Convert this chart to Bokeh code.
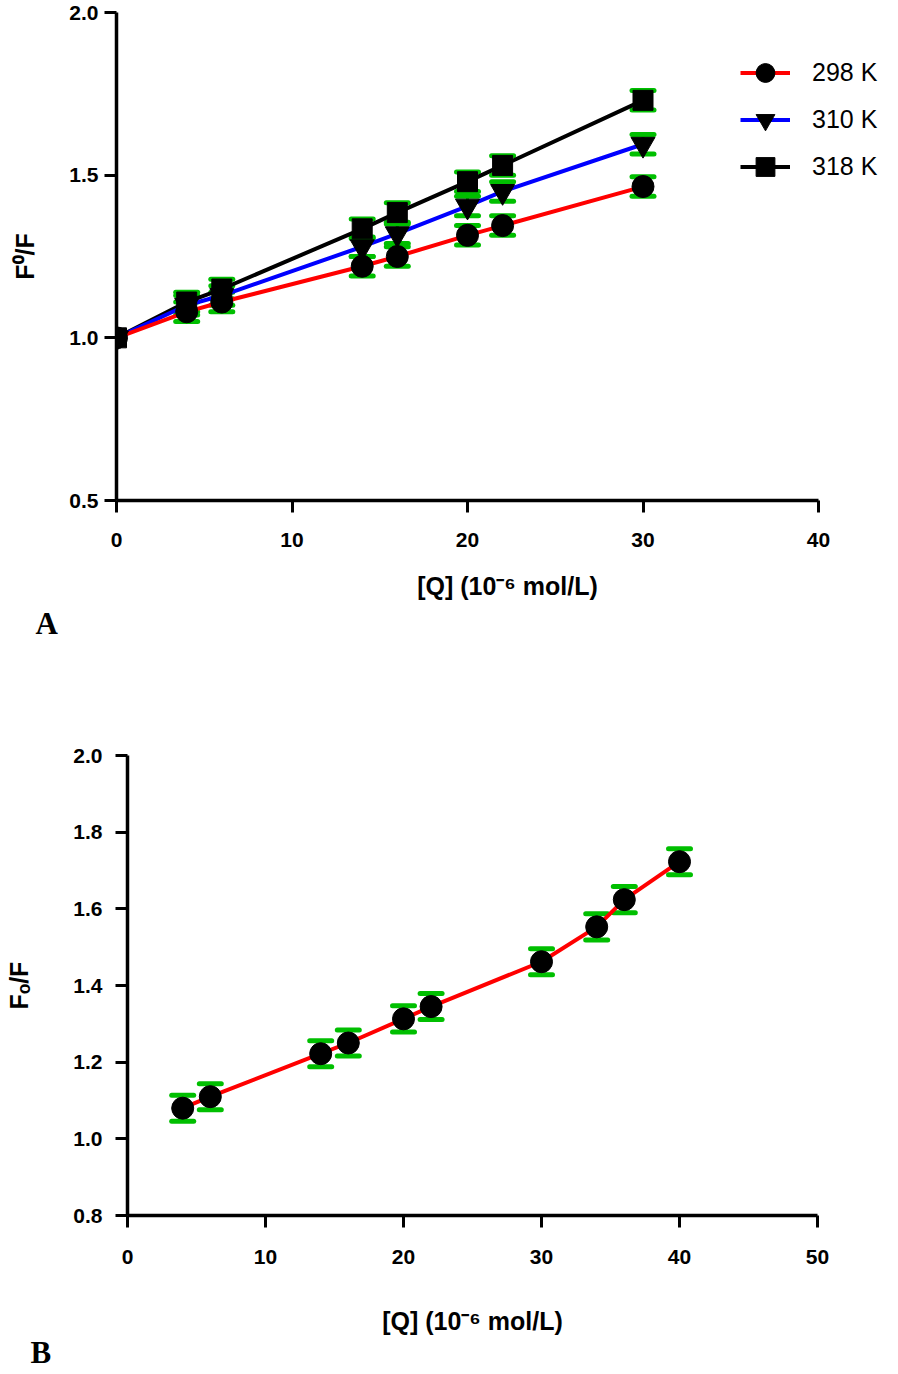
from bokeh.plotting import figure
from bokeh.models import (Range1d, Whisker, TeeHead, ColumnDataSource, Legend,
                          LegendItem, Title, FixedTicker, PrintfTickFormatter)
from bokeh.embed import file_html
from bokeh.resources import INLINE

# ---------------- data: panel A ----------------
conc_a = [0, 4, 6, 14, 16, 20, 22, 30]
ratio_298 = [1.00, 1.08, 1.11, 1.22, 1.25, 1.315, 1.345, 1.465]
ratio_310 = [1.00, 1.10, 1.13, 1.28, 1.32, 1.405, 1.45, 1.595]
ratio_318 = [1.00, 1.11, 1.15, 1.335, 1.385, 1.48, 1.53, 1.73]
err_a = [0.0, 0.03, 0.03, 0.03, 0.03, 0.03, 0.03, 0.03]
labels_a = ["298 K", "310 K", "318 K"]

# ---------------- data: panel B ----------------
conc_b = [4, 6, 14, 16, 20, 22, 30, 34, 36, 40]
ratio_b = [1.08, 1.11, 1.222, 1.25, 1.313, 1.345, 1.462, 1.553, 1.624, 1.723]
err_b = [0.034] * 10

xticks_a = [0, 10, 20, 30, 40]
yticks_a = [0.5, 1.0, 1.5, 2.0]
xticks_b = [0, 10, 20, 30, 40, 50]
yticks_b = [0.8, 1.0, 1.2, 1.4, 1.6, 1.8, 2.0]
xlabel = "[Q] (10\u207b\u2076 mol/L)"

GREEN = "#00bf00"
FONT = "Liberation Sans"


def style(p):
    p.outline_line_color = None
    p.xgrid.grid_line_color = None
    p.ygrid.grid_line_color = None
    for ax in (p.xaxis, p.yaxis):
        ax.axis_line_width = 3.5
        ax.axis_line_color = "black"
        ax.major_tick_line_width = 3
        ax.major_tick_out = 12
        ax.major_tick_in = 0
        ax.minor_tick_line_color = None
        ax.major_label_text_font = FONT
        ax.major_label_text_font_style = "bold"
        ax.major_label_text_font_size = "21px"
        ax.major_label_text_color = "black"
        ax.axis_label_text_font = FONT
        ax.axis_label_text_font_style = "bold"
        ax.axis_label_text_font_size = "25px"
        ax.axis_label_text_color = "black"


def add_errors(p, xs, ys, es):
    xx = [x for x, e in zip(xs, es) if e > 0]
    up = [y + e for y, e in zip(ys, es) if e > 0]
    lo = [y - e for y, e in zip(ys, es) if e > 0]
    src = ColumnDataSource(dict(x=xx, upper=up, lower=lo))
    w = Whisker(base="x", upper="upper", lower="lower", source=src,
                line_color=GREEN, line_width=3,
                upper_head=TeeHead(size=22, line_color=GREEN, line_width=5, line_cap="round"),
                lower_head=TeeHead(size=22, line_color=GREEN, line_width=5, line_cap="round"))
    p.add_layout(w)


def below_title(p, text, align, offset, standoff, font, size):
    t = Title(text=text, align=align, offset=offset, text_font=font,
              text_font_style="bold", text_font_size=size, text_color="black")
    try:
        t.standoff = standoff
    except Exception:
        t.standoff = 0
    p.add_layout(t, "below")


# ---------------- panel A ----------------
XMAX_A = 40 * (898 - 116) / (818 - 116)   # frame reaches the right edge (legend room)
pa = figure(width=898, height=650, output_backend="svg", toolbar_location=None,
            x_range=Range1d(0, XMAX_A), y_range=Range1d(0.5, 2.0),
            min_border_left=116, min_border_right=0, min_border_top=12,
            min_border_bottom=150)
style(pa)
pa.xaxis.bounds = (0, 40)
pa.xaxis.ticker = FixedTicker(ticks=xticks_a)
pa.yaxis.ticker = FixedTicker(ticks=yticks_a)
pa.yaxis.formatter = PrintfTickFormatter(format="%.1f")
pa.yaxis.axis_label = "F\u2070/F"
pa.xaxis.major_label_standoff = 20
pa.yaxis.major_label_standoff = 6
pa.yaxis.axis_label_standoff = 27

series = [(ratio_318, "black", "square", 20),
          (ratio_310, "blue", "inverted_triangle", 24),
          (ratio_298, "red", "circle", 22)]
for ys, _, _, _ in series:
    add_errors(pa, conc_a, ys, err_a)
items = {}
line_rs = {}
for ys, col, _, _ in series:
    line_rs[col] = pa.line(conc_a, ys, line_color=col, line_width=4)
for (ys, col, mk, sz), lab in zip(series, ["318 K", "310 K", "298 K"]):
    mr = pa.scatter(conc_a, ys, marker=mk, size=sz, fill_color="black", line_color="black")
    items[lab] = LegendItem(label=lab, renderers=[line_rs[col], mr])

legend = Legend(items=[items[l] for l in labels_a], location=(624, 310),
                glyph_width=50, glyph_height=47, spacing=0, label_standoff=22,
                padding=0, margin=0, border_line_color=None,
                background_fill_alpha=0, label_text_font=FONT,
                label_text_font_size="25px", label_text_color="black",
                label_text_baseline="middle")
pa.add_layout(legend)
# x-axis label centred under the 0-40 axis (the frame runs on to the page edge)
below_title(pa, xlabel, "center", -41, 40, FONT, "25px")
below_title(pa, "A", "left", -81, -31, "Liberation Serif", "31px")

# ---------------- panel B ----------------
pb = figure(width=898, height=724, output_backend="svg", toolbar_location=None,
            x_range=Range1d(0, 50), y_range=Range1d(0.8, 2.0),
            min_border_left=127, min_border_right=81, min_border_top=105,
            min_border_bottom=159)
style(pb)
pb.xaxis.ticker = FixedTicker(ticks=xticks_b)
pb.yaxis.ticker = FixedTicker(ticks=yticks_b)
pb.yaxis.formatter = PrintfTickFormatter(format="%.1f")
pb.xaxis.axis_label = xlabel
pb.yaxis.axis_label = "F\u2092/F"
pb.xaxis.major_label_standoff = 22
pb.xaxis.axis_label_standoff = 40
pb.yaxis.major_label_standoff = 13
pb.yaxis.axis_label_standoff = 37

add_errors(pb, conc_b, ratio_b, err_b)
pb.line(conc_b, ratio_b, line_color="red", line_width=4)
pb.scatter(conc_b, ratio_b, marker="circle", size=22, fill_color="black", line_color="black")
below_title(pb, "B", "left", -97, -9, "Liberation Serif", "31px")

open("out.html", "w").write(file_html([pa, pb], INLINE))
